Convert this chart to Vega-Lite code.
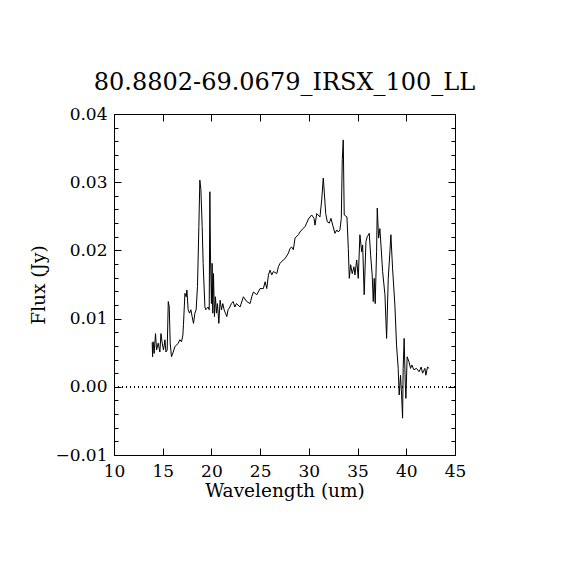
{
  "$schema": "https://vega.github.io/schema/vega-lite/v6.json",
  "width": 341,
  "height": 341,
  "autosize": "none",
  "padding": {"left": 114, "top": 114, "right": 115, "bottom": 115},
  "background": "white",
  "title": {
    "text": "80.8802-69.0679_IRSX_100_LL",
    "font": "DejaVu Serif",
    "fontSize": 24,
    "fontWeight": "normal",
    "color": "black",
    "anchor": "middle",
    "baseline": "alphabetic",
    "offset": -9
  },
  "config": {
    "view": {"stroke": "black", "strokeWidth": 1},
    "axis": {
      "domain": false,
      "grid": false,
      "labelFont": "DejaVu Serif",
      "labelFontSize": 17,
      "labelColor": "black",
      "tickColor": "black",
      "tickWidth": 1,
      "titleFont": "DejaVu Serif",
      "titleFontSize": 18.5,
      "titleFontWeight": "normal",
      "titleColor": "black"
    }
  },
  "data": {
    "values": [
      {"wavelength": 13.92, "flux": 0.0065},
      {"wavelength": 13.96, "flux": 0.0044},
      {"wavelength": 14.02, "flux": 0.0066},
      {"wavelength": 14.12, "flux": 0.0049},
      {"wavelength": 14.26, "flux": 0.0078},
      {"wavelength": 14.37, "flux": 0.0054},
      {"wavelength": 14.54, "flux": 0.0064},
      {"wavelength": 14.71, "flux": 0.0051},
      {"wavelength": 14.82, "flux": 0.0078},
      {"wavelength": 14.95, "flux": 0.0064},
      {"wavelength": 15.08, "flux": 0.0054},
      {"wavelength": 15.23, "flux": 0.0069},
      {"wavelength": 15.33, "flux": 0.0051},
      {"wavelength": 15.46, "flux": 0.0054},
      {"wavelength": 15.57, "flux": 0.0125},
      {"wavelength": 15.67, "flux": 0.0117},
      {"wavelength": 15.77, "flux": 0.0064},
      {"wavelength": 15.90, "flux": 0.0044},
      {"wavelength": 16.08, "flux": 0.0051},
      {"wavelength": 16.25, "flux": 0.0059},
      {"wavelength": 16.42, "flux": 0.0061},
      {"wavelength": 16.59, "flux": 0.0064},
      {"wavelength": 16.76, "flux": 0.0069},
      {"wavelength": 16.93, "flux": 0.0066},
      {"wavelength": 17.07, "flux": 0.0076},
      {"wavelength": 17.13, "flux": 0.0091},
      {"wavelength": 17.28, "flux": 0.0137},
      {"wavelength": 17.41, "flux": 0.0132},
      {"wavelength": 17.48, "flux": 0.0142},
      {"wavelength": 17.61, "flux": 0.0113},
      {"wavelength": 17.75, "flux": 0.0108},
      {"wavelength": 17.89, "flux": 0.0113},
      {"wavelength": 18.02, "flux": 0.0103},
      {"wavelength": 18.16, "flux": 0.0093},
      {"wavelength": 18.30, "flux": 0.0108},
      {"wavelength": 18.43, "flux": 0.0113},
      {"wavelength": 18.57, "flux": 0.0147},
      {"wavelength": 18.71, "flux": 0.0235},
      {"wavelength": 18.81, "flux": 0.0303},
      {"wavelength": 18.92, "flux": 0.0289},
      {"wavelength": 19.05, "flux": 0.0235},
      {"wavelength": 19.15, "flux": 0.0181},
      {"wavelength": 19.33, "flux": 0.0117},
      {"wavelength": 19.43, "flux": 0.0113},
      {"wavelength": 19.53, "flux": 0.0115},
      {"wavelength": 19.66, "flux": 0.0117},
      {"wavelength": 19.77, "flux": 0.0113},
      {"wavelength": 19.84, "flux": 0.0286},
      {"wavelength": 19.90, "flux": 0.0196},
      {"wavelength": 20.00, "flux": 0.0122},
      {"wavelength": 20.07, "flux": 0.0181},
      {"wavelength": 20.14, "flux": 0.0108},
      {"wavelength": 20.21, "flux": 0.0166},
      {"wavelength": 20.31, "flux": 0.0103},
      {"wavelength": 20.41, "flux": 0.0132},
      {"wavelength": 20.52, "flux": 0.0108},
      {"wavelength": 20.62, "flux": 0.0122},
      {"wavelength": 20.76, "flux": 0.0093},
      {"wavelength": 20.89, "flux": 0.0127},
      {"wavelength": 21.03, "flux": 0.0113},
      {"wavelength": 21.17, "flux": 0.0122},
      {"wavelength": 21.30, "flux": 0.0113},
      {"wavelength": 21.44, "flux": 0.0108},
      {"wavelength": 21.58, "flux": 0.0103},
      {"wavelength": 21.71, "flux": 0.0113},
      {"wavelength": 21.89, "flux": 0.0117},
      {"wavelength": 22.05, "flux": 0.0122},
      {"wavelength": 22.23, "flux": 0.0125},
      {"wavelength": 22.40, "flux": 0.0117},
      {"wavelength": 22.57, "flux": 0.0122},
      {"wavelength": 22.94, "flux": 0.0117},
      {"wavelength": 23.28, "flux": 0.0132},
      {"wavelength": 23.63, "flux": 0.0125},
      {"wavelength": 23.97, "flux": 0.0122},
      {"wavelength": 24.14, "flux": 0.0132},
      {"wavelength": 24.31, "flux": 0.0139},
      {"wavelength": 24.66, "flux": 0.0135},
      {"wavelength": 24.99, "flux": 0.0144},
      {"wavelength": 25.33, "flux": 0.0144},
      {"wavelength": 25.51, "flux": 0.0154},
      {"wavelength": 25.68, "flux": 0.0144},
      {"wavelength": 25.85, "flux": 0.0164},
      {"wavelength": 26.02, "flux": 0.0171},
      {"wavelength": 26.19, "flux": 0.0164},
      {"wavelength": 26.36, "flux": 0.0169},
      {"wavelength": 26.71, "flux": 0.0166},
      {"wavelength": 26.87, "flux": 0.0176},
      {"wavelength": 27.04, "flux": 0.0181},
      {"wavelength": 27.38, "flux": 0.0186},
      {"wavelength": 27.56, "flux": 0.0188},
      {"wavelength": 27.90, "flux": 0.0196},
      {"wavelength": 28.07, "flux": 0.0203},
      {"wavelength": 28.24, "flux": 0.0205},
      {"wavelength": 28.41, "flux": 0.0201},
      {"wavelength": 28.58, "flux": 0.0218},
      {"wavelength": 28.92, "flux": 0.0223},
      {"wavelength": 29.09, "flux": 0.0227},
      {"wavelength": 29.27, "flux": 0.0230},
      {"wavelength": 29.61, "flux": 0.0235},
      {"wavelength": 29.78, "flux": 0.0240},
      {"wavelength": 29.95, "flux": 0.0246},
      {"wavelength": 30.29, "flux": 0.0252},
      {"wavelength": 30.53, "flux": 0.0247},
      {"wavelength": 30.63, "flux": 0.0237},
      {"wavelength": 30.81, "flux": 0.0254},
      {"wavelength": 31.14, "flux": 0.0249},
      {"wavelength": 31.32, "flux": 0.0274},
      {"wavelength": 31.48, "flux": 0.0306},
      {"wavelength": 31.59, "flux": 0.0284},
      {"wavelength": 31.73, "flux": 0.0254},
      {"wavelength": 31.89, "flux": 0.0242},
      {"wavelength": 32.10, "flux": 0.0240},
      {"wavelength": 32.27, "flux": 0.0247},
      {"wavelength": 32.45, "flux": 0.0237},
      {"wavelength": 32.68, "flux": 0.0225},
      {"wavelength": 32.86, "flux": 0.0230},
      {"wavelength": 33.02, "flux": 0.0227},
      {"wavelength": 33.19, "flux": 0.0230},
      {"wavelength": 33.33, "flux": 0.0247},
      {"wavelength": 33.43, "flux": 0.0333},
      {"wavelength": 33.53, "flux": 0.0362},
      {"wavelength": 33.63, "flux": 0.0252},
      {"wavelength": 33.91, "flux": 0.0249},
      {"wavelength": 34.05, "flux": 0.0203},
      {"wavelength": 34.15, "flux": 0.0159},
      {"wavelength": 34.29, "flux": 0.0179},
      {"wavelength": 34.45, "flux": 0.0166},
      {"wavelength": 34.63, "flux": 0.0176},
      {"wavelength": 34.73, "flux": 0.0164},
      {"wavelength": 34.91, "flux": 0.0186},
      {"wavelength": 35.07, "flux": 0.0159},
      {"wavelength": 35.24, "flux": 0.0223},
      {"wavelength": 35.42, "flux": 0.0198},
      {"wavelength": 35.52, "flux": 0.0208},
      {"wavelength": 35.68, "flux": 0.0135},
      {"wavelength": 35.86, "flux": 0.0213},
      {"wavelength": 35.99, "flux": 0.0220},
      {"wavelength": 36.20, "flux": 0.0225},
      {"wavelength": 36.34, "flux": 0.0193},
      {"wavelength": 36.50, "flux": 0.0164},
      {"wavelength": 36.61, "flux": 0.0125},
      {"wavelength": 36.71, "flux": 0.0159},
      {"wavelength": 36.81, "flux": 0.0122},
      {"wavelength": 36.95, "flux": 0.0198},
      {"wavelength": 37.02, "flux": 0.0262},
      {"wavelength": 37.16, "flux": 0.0218},
      {"wavelength": 37.29, "flux": 0.0232},
      {"wavelength": 37.40, "flux": 0.0208},
      {"wavelength": 37.57, "flux": 0.0169},
      {"wavelength": 37.81, "flux": 0.0135},
      {"wavelength": 37.98, "flux": 0.0071},
      {"wavelength": 38.15, "flux": 0.0159},
      {"wavelength": 38.32, "flux": 0.0198},
      {"wavelength": 38.42, "flux": 0.0223},
      {"wavelength": 38.59, "flux": 0.0174},
      {"wavelength": 38.83, "flux": 0.0120},
      {"wavelength": 39.00, "flux": 0.0061},
      {"wavelength": 39.17, "flux": 0.0027},
      {"wavelength": 39.27, "flux": -0.0012},
      {"wavelength": 39.41, "flux": 0.0017},
      {"wavelength": 39.52, "flux": -0.0012},
      {"wavelength": 39.62, "flux": -0.0046},
      {"wavelength": 39.68, "flux": 0.0027},
      {"wavelength": 39.78, "flux": 0.0071},
      {"wavelength": 39.89, "flux": 0.0007},
      {"wavelength": 39.96, "flux": -0.0017},
      {"wavelength": 40.09, "flux": 0.0044},
      {"wavelength": 40.27, "flux": 0.0037},
      {"wavelength": 40.44, "flux": 0.0027},
      {"wavelength": 40.57, "flux": 0.0032},
      {"wavelength": 40.78, "flux": 0.0025},
      {"wavelength": 41.05, "flux": 0.0027},
      {"wavelength": 41.32, "flux": 0.0022},
      {"wavelength": 41.53, "flux": 0.0029},
      {"wavelength": 41.67, "flux": 0.0020},
      {"wavelength": 41.91, "flux": 0.0027},
      {"wavelength": 42.01, "flux": 0.0017},
      {"wavelength": 42.18, "flux": 0.0029},
      {"wavelength": 42.35, "flux": 0.0027}
    ]
  },
  "layer": [
    {
      "mark": {"type": "line", "color": "black", "strokeWidth": 1, "interpolate": "linear"},
      "encoding": {
        "x": {
          "field": "wavelength",
          "type": "quantitative",
          "scale": {"domain": [10, 45], "nice": false, "zero": false},
          "axis": {
            "orient": "bottom",
            "title": "Wavelength (um)",
            "values": [10, 15, 20, 25, 30, 35, 40, 45],
            "tickSize": -7,
            "labelPadding": 15,
            "labelFlush": false,
            "labelOverlap": false,
            "titlePadding": 2
          }
        },
        "y": {
          "field": "flux",
          "type": "quantitative",
          "scale": {"domain": [-0.01, 0.04], "nice": false, "zero": false},
          "axis": {
            "orient": "left",
            "title": "Flux (Jy)",
            "values": [-0.01, -0.008, -0.006, -0.004, -0.002, 0, 0.002, 0.004, 0.006, 0.008, 0.01, 0.012, 0.014, 0.016, 0.018, 0.02, 0.022, 0.024, 0.026, 0.028, 0.03, 0.032, 0.034, 0.036, 0.038, 0.04],
            "format": ".2f",
            "labelExpr": "abs(datum.value*100 - round(datum.value*100)) < 0.01 ? datum.label : ''",
            "tickSize": {"condition": {"test": "abs(datum.value*100 - round(datum.value*100)) < 0.01", "value": -7}, "value": -4},
            "labelPadding": 14,
            "labelFlush": false,
            "labelOverlap": false,
            "titlePadding": 6
          }
        }
      }
    },
    {
      "mark": {"type": "rule", "color": "black", "strokeWidth": 1, "strokeDash": [1, 3]},
      "encoding": {
        "x": {
          "datum": 10,
          "type": "quantitative",
          "axis": {
            "orient": "top",
            "title": null,
            "values": [10, 15, 20, 25, 30, 35, 40, 45],
            "labels": false,
            "tickSize": -7
          }
        },
        "x2": {"datum": 45},
        "y": {
          "datum": 0,
          "type": "quantitative",
          "axis": {
            "orient": "right",
            "title": null,
            "values": [-0.01, -0.008, -0.006, -0.004, -0.002, 0, 0.002, 0.004, 0.006, 0.008, 0.01, 0.012, 0.014, 0.016, 0.018, 0.02, 0.022, 0.024, 0.026, 0.028, 0.03, 0.032, 0.034, 0.036, 0.038, 0.04],
            "labels": false,
            "tickSize": {"condition": {"test": "abs(datum.value*100 - round(datum.value*100)) < 0.01", "value": -7}, "value": -4}
          }
        }
      }
    }
  ],
  "resolve": {"axis": {"x": "independent", "y": "independent"}}
}
